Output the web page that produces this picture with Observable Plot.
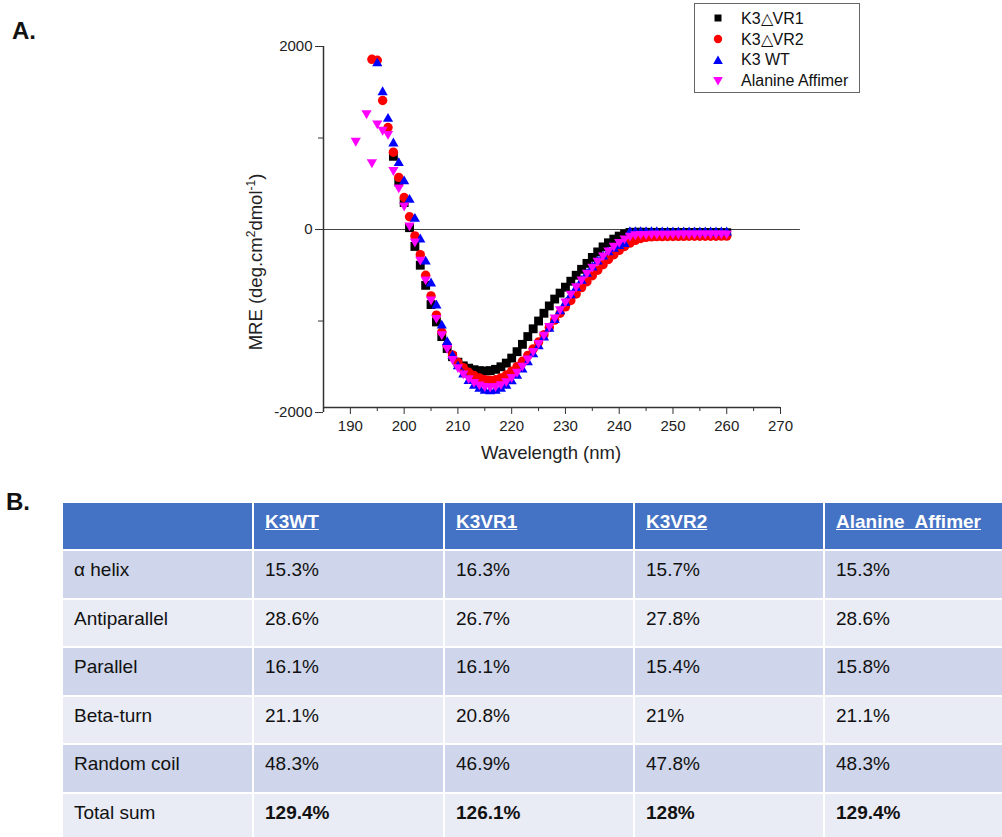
<!DOCTYPE html>
<html>
<head>
<meta charset="utf-8">
<script src="https://cdn.jsdelivr.net/npm/d3@7"></script>
<script src="https://cdn.jsdelivr.net/npm/@observablehq/plot@0.6"></script>
<style>
  body { margin: 0; background: #fff; font-family: "Liberation Sans", Arial, sans-serif; }
  #page { position: relative; width: 1002px; height: 837px; overflow: hidden; }
  .tag { position: absolute; font-weight: bold; font-size: 24px; line-height: 24px; color: #111; }
  #chart { position: absolute; left: 0; top: 0; }
  #legend { position: absolute; left: 694px; top: 3px; width: 166px; height: 90px;
            border: 1px solid #666; box-sizing: border-box; background: #fff; }
  .lg-row { position: absolute; left: 0; height: 20px; display: flex; align-items: center;
            font-size: 16px; color: #111; white-space: nowrap; }
  .lg-row svg { margin-left: 17px; margin-right: 17px; }
  #table { position: absolute; left: 63px; top: 503px; display: grid;
           grid-template-columns: 189px 189px 188px 188px 177px;
           grid-template-rows: 46px repeat(6, 46.5px); gap: 2px; }
  .cell { box-sizing: border-box; padding: 8px 0 0 11px; font-size: 19px; line-height: 22px;
          color: #111; white-space: pre; }
  .head { background: #4472C4; color: #fff; font-weight: bold;
          text-decoration: underline; padding-top: 8px; }
  .odd { background: #CFD5EA; }
  .even { background: #E9EBF5; }
  .bold { font-weight: bold; }
</style>
</head>
<body>
<div id="page">
  <div class="tag" style="left:12px;top:19px;">A.</div>
  <div class="tag" style="left:6px;top:490px;">B.</div>
  <div id="chart"></div>
  <div id="legend"></div>
  <div id="table"></div>
</div>
<script>
// ---- CD spectra: mean residue ellipticity vs wavelength (1 nm steps) ----
const wlVR1 = d3.range(198, 261);
const mreVR1 = [
  800, 520, 295, 20, -185, -390, -610, -820, -1010, -1170,
  -1300, -1390, -1450, -1490, -1515, -1532, -1542, -1546, -1542, -1528,
  -1500, -1460, -1405, -1335, -1255, -1170, -1085, -1000, -915, -835,
  -760, -695, -630, -565, -500, -435, -370, -305, -245, -190,
  -145, -105, -72, -48, -32, -30, -30, -31, -31, -32,
  -32, -32, -33, -33, -33, -33, -34, -34, -34, -34,
  -35, -35, -35
];

const wlVR2 = d3.range(194, 261);
const mreVR2 = [
  1860, 1850, 1410, 1115, 845, 570, 350, 140, -70, -275,
  -500, -725, -935, -1120, -1265, -1370, -1450, -1510, -1560, -1595,
  -1622, -1640, -1648, -1642, -1622, -1590, -1548, -1498, -1440, -1375,
  -1305, -1230, -1150, -1070, -990, -915, -845, -775, -705, -635,
  -570, -505, -445, -385, -328, -275, -228, -185, -148, -118,
  -98, -86, -80, -78, -77, -76, -76, -75, -75, -74,
  -74, -74, -73, -73, -73, -72, -72
];

const wlWT = d3.range(195, 261);
const mreWT = [
  1815, 1500, 1210, 940, 725, 527, 324, 117, -109, -350,
  -590, -830, -1050, -1230, -1380, -1495, -1585, -1655, -1708, -1742,
  -1762, -1768, -1762, -1742, -1708, -1660, -1600, -1530, -1450, -1365,
  -1275, -1180, -1085, -990, -895, -805, -720, -640, -560, -485,
  -415, -350, -295, -248, -210, -182, -160, -28, -28, -28,
  -29, -29, -29, -30, -30, -30, -30, -31, -31, -31,
  -31, -32, -32, -32, -32, -32
];

const wlAla = [191, ...d3.range(193, 261)];
const mreAla = [
  970, 1270, 735, 1160, 1090, 1045, 650, 460, 262, 44,
  -131, -330, -545, -765, -965, -1145, -1295, -1415, -1505, -1572,
  -1625, -1665, -1693, -1710, -1716, -1710, -1690, -1658, -1612, -1555,
  -1487, -1410, -1327, -1240, -1148, -1055, -962, -872, -785, -700,
  -620, -545, -472, -405, -342, -283, -228, -178, -135, -98,
  -68, -52, -48, -47, -46, -46, -45, -45, -45, -44,
  -44, -44, -44, -43, -43, -43, -43, -42, -42
];

const seriesNames = ["K3\u25B3VR1", "K3\u25B3VR2", "K3 WT", "Alanine Affimer"];
const seriesColors = ["#000000", "#ff0000", "#0000ff", "#ff00ff"];

const xMajorTicks = [190, 200, 210, 220, 230, 240, 250, 260, 270];
const xMinorTicks = [195, 205, 215, 225, 235, 245, 255, 265];
const yMajorTicks = [-2000, 0, 2000];
const yMinorTicks = [-1000, 1000];
const xDomain = [185, 270];
const yDomain = [-1945, 2000];

// ---- secondary structure estimates ----
const tableColumns = ["K3WT", "K3VR1", "K3VR2", "Alanine  Affimer"];
const tableRows = ["\u03B1 helix", "Antiparallel", "Parallel", "Beta-turn", "Random coil", "Total sum"];
const pctK3WT = ["15.3%", "28.6%", "16.1%", "21.1%", "48.3%", "129.4%"];
const pctK3VR1 = ["16.3%", "26.7%", "16.1%", "20.8%", "46.9%", "126.1%"];
const pctK3VR2 = ["15.7%", "27.8%", "15.4%", "21%", "47.8%", "128%"];
const pctAlanine = ["15.3%", "28.6%", "15.8%", "21.1%", "48.3%", "129.4%"];

// marker shapes
const squareSym = { draw(ctx, size) { const w = Math.sqrt(size); ctx.rect(-w / 2, -w / 2, w, w); } };
const triUp = { draw(ctx, size) {
  const w = Math.sqrt(size) * 1.15, h = w * 0.866;
  ctx.moveTo(0, -2 * h / 3); ctx.lineTo(w / 2, h / 3); ctx.lineTo(-w / 2, h / 3); ctx.closePath(); } };
const triDown = { draw(ctx, size) {
  const w = Math.sqrt(size) * 1.15, h = w * 0.866;
  ctx.moveTo(0, 2 * h / 3); ctx.lineTo(w / 2, -h / 3); ctx.lineTo(-w / 2, -h / 3); ctx.closePath(); } };

const chart = Plot.plot({
  width: 1002, height: 470,
  marginLeft: 323, marginRight: 222, marginTop: 46, marginBottom: 63,
  x: { domain: xDomain },
  y: { domain: yDomain },
  style: { fontFamily: "'Liberation Sans', Arial, sans-serif", color: "#333", background: "transparent", overflow: "visible" },
  marks: [
    Plot.ruleY([0], { x1: xDomain[0], x2: 273.7, stroke: "#444", strokeWidth: 1.2 }),
    Plot.ruleX([xDomain[0]], { y1: -2000, y2: 2000, stroke: "#333", strokeWidth: 1.5 }),
    Plot.ruleY([yDomain[0]], { x1: xDomain[0], x2: xDomain[1], stroke: "#333", strokeWidth: 1.5 }),
    Plot.axisX({ ticks: xMajorTicks, tickSize: 7, tickPadding: 6, fontSize: 15, label: null, fill: "#222", tickFormat: d => String(d) }),
    Plot.axisX({ ticks: xMinorTicks, tickSize: 4, tickFormat: () => "", label: null }),
    Plot.axisY({ ticks: yMajorTicks, tickSize: 8, tickPadding: 3, fontSize: 15, label: null, fill: "#222", tickFormat: d => String(d) }),
    Plot.axisY({ ticks: yMinorTicks, tickSize: 5, tickFormat: () => "", label: null }),
    Plot.dot(mreVR1, { x: wlVR1, y: mreVR1, symbol: squareSym, r: 5, fill: seriesColors[0] }),
    Plot.dot(mreVR2, { x: wlVR2, y: mreVR2, symbol: "circle", r: 4.7, fill: seriesColors[1] }),
    Plot.dot(mreWT, { x: wlWT, y: mreWT, symbol: triUp, r: 5, fill: seriesColors[2] }),
    Plot.dot(mreAla, { x: wlAla, y: mreAla, symbol: triDown, r: 5, fill: seriesColors[3] })
  ]
});
document.getElementById("chart").appendChild(chart);

// axis titles
const svg = d3.select(chart);
svg.append("text")
  .attr("x", 551).attr("y", 459)
  .attr("text-anchor", "middle")
  .attr("font-size", 18.5).attr("fill", "#222")
  .text("Wavelength (nm)");
const yTitle = svg.append("text")
  .attr("transform", "translate(262,262) rotate(-90)")
  .attr("text-anchor", "middle")
  .attr("font-size", 18.5).attr("fill", "#222");
yTitle.append("tspan").text("MRE (deg.cm");
yTitle.append("tspan").attr("dy", -7).attr("font-size", 12).text("2");
yTitle.append("tspan").attr("dy", 7).text("dmol");
yTitle.append("tspan").attr("dy", -7).attr("font-size", 12).text("-1");
yTitle.append("tspan").attr("dy", 7).text(")");

// legend
const legendShapes = [
  '<rect x="2.5" y="2.5" width="7" height="7"/>',
  '<circle cx="6" cy="6" r="4.2"/>',
  '<path d="M6 1.5 L10.8 10 L1.2 10 Z"/>',
  '<path d="M6 10.5 L10.8 2 L1.2 2 Z"/>'
];
const legend = document.getElementById("legend");
const rowTops = [4, 25, 46, 67];
seriesNames.forEach((name, i) => {
  const row = document.createElement("div");
  row.className = "lg-row";
  row.style.top = rowTops[i] + "px";
  row.innerHTML = `<svg width="12" height="12" viewBox="0 0 12 12" fill="${seriesColors[i]}">${legendShapes[i]}</svg><span>${name}</span>`;
  legend.appendChild(row);
});

// table
const table = document.getElementById("table");
const columnValues = [pctK3WT, pctK3VR1, pctK3VR2, pctAlanine];
const addCell = (text, cls) => {
  const c = document.createElement("div");
  c.className = "cell " + cls;
  c.textContent = text;
  table.appendChild(c);
};
addCell("", "head");
tableColumns.forEach(col => addCell(col, "head"));
tableRows.forEach((label, r) => {
  const band = r % 2 === 0 ? "odd" : "even";
  const isTotal = r === tableRows.length - 1;
  addCell(label, band);
  columnValues.forEach(vals => addCell(vals[r], band + (isTotal ? " bold" : "")));
});
</script>
</body>
</html>
